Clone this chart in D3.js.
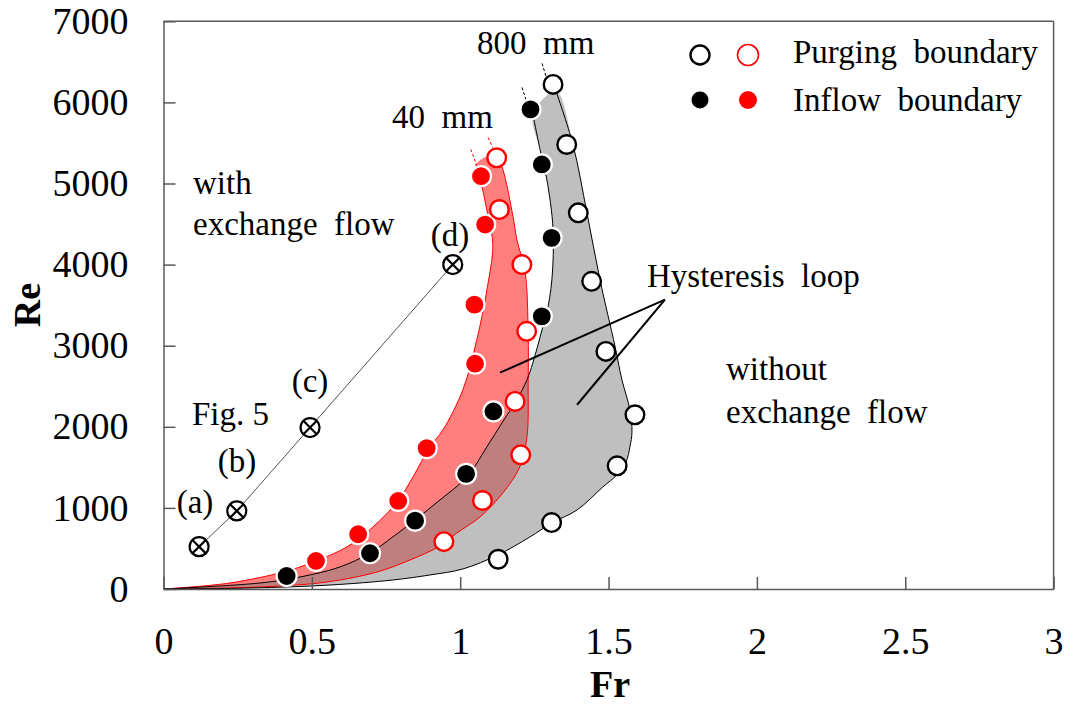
<!DOCTYPE html>
<html><head><meta charset="utf-8">
<script src="https://cdn.jsdelivr.net/npm/d3@7"></script>
<style>
body{margin:0;background:#fff}
svg text{font-family:"Liberation Serif","Times New Roman",serif;fill:#000;white-space:pre}
</style>
</head><body>
<svg id="chart" width="1069" height="704"></svg>
<script>
// ---- Data ----
const xTicks = [0, 0.5, 1, 1.5, 2, 2.5, 3];
const xTickLabels = ["0", "0.5", "1", "1.5", "2", "2.5", "3"];
const yTicks = [0, 1000, 2000, 3000, 4000, 5000, 6000, 7000];
const yTickLabels = ["0", "1000", "2000", "3000", "4000", "5000", "6000", "7000"];

// 800 mm (black) points [Fr, Re]
const purging800 = [[1.313,6222],[1.359,5481],[1.398,4638],[1.443,3794],[1.491,2930],[1.589,2148],[1.529,1519],[1.308,819],[1.128,367]];
const inflow800  = [[1.237,5914],[1.275,5235],[1.308,4330],[1.275,3362],[1.112,2189],[1.020,1420],[0.848,843],[0.696,441],[0.415,160]];
// 40 mm (red) points
const purging40 = [[1.123,5317],[1.132,4679],[1.208,4000],[1.224,3177],[1.185,2313],[1.204,1654],[1.075,1091],[0.945,584]];
const inflow40  = [[1.070,5090],[1.084,4494],[1.048,3506],[1.050,2778],[0.887,1737],[0.791,1086],[0.656,675],[0.514,346]];

// Fig. 5 cases
const fig5Fr = [0.120, 0.247, 0.494, 0.975];
const fig5Re = [522, 963, 1991, 4000];
const fig5Labels = ["(a)", "(b)", "(c)", "(d)"];

// Fitted boundary curves [Fr, Re], from origin upward
const inflowCurve800 = [[0,0],[0.325,74],[0.460,148],[0.595,272],[0.696,444],[0.773,642],[0.848,852],[0.932,1099],[1.023,1383],[1.090,1753],[1.141,2049],[1.191,2333],[1.225,2580],[1.245,2790],[1.276,3198],[1.292,3407],[1.309,3815],[1.313,4432],[1.292,5049],[1.269,5420],[1.245,5852]];
const purgingCurve800 = [[0,0],[0.292,12],[0.561,49],[0.773,111],[0.898,173],[1.009,247],[1.127,420],[1.235,642],[1.309,815],[1.394,975],[1.481,1259],[1.528,1407],[1.559,1568],[1.572,1753],[1.579,1938],[1.572,2210],[1.545,2580],[1.522,2988],[1.471,3815],[1.427,4642],[1.380,5481],[1.323,6136]];
const inflowCurve40 = [[0,0],[0.224,74],[0.416,222],[0.514,346],[0.618,519],[0.706,765],[0.790,1086],[0.841,1383],[0.898,1753],[0.942,1963],[1.009,2457],[1.056,3074],[1.090,3691],[1.110,4247],[1.094,4593],[1.073,4963],[1.053,5235]];
const purgingCurve40 = [[0,0],[0.325,25],[0.551,86],[0.720,210],[0.831,358],[0.932,531],[0.989,691],[1.067,889],[1.144,1185],[1.201,1506],[1.225,1877],[1.229,2543],[1.229,3160],[1.219,3901],[1.191,4309],[1.178,4593],[1.144,5173],[1.124,5358]];

// Dashed extensions [[Fr,Re],[Fr,Re]]
const dashes800 = [[[1.208,6185],[1.225,6000]], [[1.276,6481],[1.289,6321]]];
const dashes40  = [[[1.036,5420],[1.057,5210]], [[1.094,5568],[1.110,5444]]];

// Hysteresis loop pointer lines
const hystFrom = [1.690, 3568];
const hystTo = [[1.134, 2667], [1.394, 2272]];

// ---- Chart ----
const svg = d3.select("#chart");
const x = d3.scaleLinear().domain([0, 3]).range([163.5, 1053.6]);
const y = d3.scaleLinear().domain([0, 7000]).range([589, 21.3]);
const axisColor = "#595959";

const line = d3.line().x(d => x(d[0])).y(d => y(d[1])).curve(d3.curveCatmullRom.alpha(0.5));

function regionPath(left, right) {
  const pts = left.concat(right.slice().reverse());
  return line(pts) + "Z";
}

// Regions
svg.append("path").attr("d", regionPath(inflowCurve40, purgingCurve40))
  .attr("fill", "rgba(255,0,0,0.5)").attr("stroke", "none");
svg.append("path").attr("d", regionPath(inflowCurve800, purgingCurve800))
  .attr("fill", "rgba(128,128,128,0.5)").attr("stroke", "none");

// Boundary lines
[inflowCurve40, purgingCurve40].forEach(c => svg.append("path").attr("d", line(c))
  .attr("fill", "none").attr("stroke", "#ff0000").attr("stroke-width", 1));
[inflowCurve800, purgingCurve800].forEach(c => svg.append("path").attr("d", line(c))
  .attr("fill", "none").attr("stroke", "#000").attr("stroke-width", 1));

// Dashes
dashes800.forEach(s => svg.append("line").attr("x1", x(s[0][0])).attr("y1", y(s[0][1]))
  .attr("x2", x(s[1][0])).attr("y2", y(s[1][1])).attr("stroke", "#000").attr("stroke-width", 1).attr("stroke-dasharray", "3,2"));
dashes40.forEach(s => svg.append("line").attr("x1", x(s[0][0])).attr("y1", y(s[0][1]))
  .attr("x2", x(s[1][0])).attr("y2", y(s[1][1])).attr("stroke", "#ff0000").attr("stroke-width", 1).attr("stroke-dasharray", "3,2"));

// Axes
const gx = svg.append("g").attr("transform", `translate(0,${y(0)})`)
  .call(d3.axisBottom(x).tickValues(xTicks).tickFormat((d, i) => xTickLabels[i]).tickSizeInner(-12).tickSizeOuter(0).tickPadding(38));
const gy = svg.append("g").attr("transform", `translate(${x(0)},0)`)
  .call(d3.axisLeft(y).tickValues(yTicks).tickFormat((d, i) => yTickLabels[i]).tickSizeInner(-12).tickSizeOuter(0).tickPadding(35));
[gx, gy].forEach(g => {
  g.attr("font-family", null).attr("font-size", null);
  g.selectAll("path,line").attr("stroke", axisColor).attr("stroke-width", 1.5);
  g.selectAll("text").style("font-size", "38px").attr("fill", "#000");
});
// box top/right
svg.append("line").attr("x1", x(0)).attr("x2", x(3)).attr("y1", y(7000)).attr("y2", y(7000)).attr("stroke", axisColor).attr("stroke-width", 1.5);
svg.append("line").attr("x1", x(3)).attr("x2", x(3)).attr("y1", y(7000)).attr("y2", y(0)).attr("stroke", axisColor).attr("stroke-width", 1.5);

// Axis titles
svg.append("text").attr("x", 610).attr("y", 697).attr("text-anchor", "middle")
  .style("font-size", "38px").style("font-weight", "bold").text("Fr");
svg.append("text").attr("transform", "translate(40,305) rotate(-90)").attr("text-anchor", "middle")
  .style("font-size", "38px").style("font-weight", "bold").text("Re");

// Fig.5 line
const fig5 = fig5Fr.map((f, i) => [f, fig5Re[i]]);
svg.append("path").attr("d", d3.line().x(d => x(d[0])).y(d => y(d[1]))(fig5))
  .attr("fill", "none").attr("stroke", "#555").attr("stroke-width", 1);

// Hysteresis lines
hystTo.forEach(t => svg.append("line").attr("x1", x(hystFrom[0])).attr("y1", y(hystFrom[1]))
  .attr("x2", x(t[0])).attr("y2", y(t[1])).attr("stroke", "#000").attr("stroke-width", 2));

// Points
function openPts(data, color) {
  svg.append("g").selectAll("circle").data(data).join("circle")
    .attr("cx", d => x(d[0])).attr("cy", d => y(d[1])).attr("r", 9.3)
    .attr("fill", "#fff").attr("stroke", color).attr("stroke-width", 2.4);
}
function filledPts(data, color) {
  svg.append("g").selectAll("circle").data(data).join("circle")
    .attr("cx", d => x(d[0])).attr("cy", d => y(d[1])).attr("r", 10)
    .attr("fill", color).attr("stroke", "#fff").attr("stroke-width", 2.2);
}
filledPts(inflow40, "#ff0000");
openPts(purging40, "#ff0000");
filledPts(inflow800, "#000");
openPts(purging800, "#000");

// Crossed circles
const cg = svg.append("g").selectAll("g").data(fig5).join("g")
  .attr("transform", d => `translate(${x(d[0])},${y(d[1])})`);
cg.append("circle").attr("r", 9.5).attr("fill", "#fff").attr("stroke", "#000").attr("stroke-width", 2.2);
cg.append("path").attr("d", "M-6.7,-6.7L6.7,6.7M-6.7,6.7L6.7,-6.7").attr("stroke", "#000").attr("stroke-width", 2.2);

// Texts
const fs = "33px";
function txt(tx, ty, s, anchor) {
  svg.append("text").attr("x", tx).attr("y", ty).attr("text-anchor", anchor || "start").style("font-size", fs).text(s);
}
const labelPos = [[195, 513], [237, 472], [310, 392], [450, 246]];
fig5Labels.forEach((l, i) => txt(labelPos[i][0], labelPos[i][1], l, "middle"));
txt(192, 425, "Fig. 5");
txt(193, 194, "with");
txt(193, 235, "exchange  flow");
txt(726, 380, "without");
txt(726, 423, "exchange  flow");
txt(647, 287, "Hysteresis  loop");
txt(477, 54, "800  mm");
txt(392, 128, "40  mm");

// Legend
svg.append("circle").attr("cx", 700).attr("cy", 55).attr("r", 9.5).attr("fill", "#fff").attr("stroke", "#000").attr("stroke-width", 2.4);
svg.append("circle").attr("cx", 748).attr("cy", 55).attr("r", 10.5).attr("fill", "#fff").attr("stroke", "#ff0000").attr("stroke-width", 1.6);
svg.append("circle").attr("cx", 700).attr("cy", 100).attr("r", 8.5).attr("fill", "#000");
svg.append("circle").attr("cx", 748).attr("cy", 100).attr("r", 9).attr("fill", "#ff0000");
txt(793, 63, "Purging  boundary");
txt(793, 111, "Inflow  boundary");
</script>
</body></html>
